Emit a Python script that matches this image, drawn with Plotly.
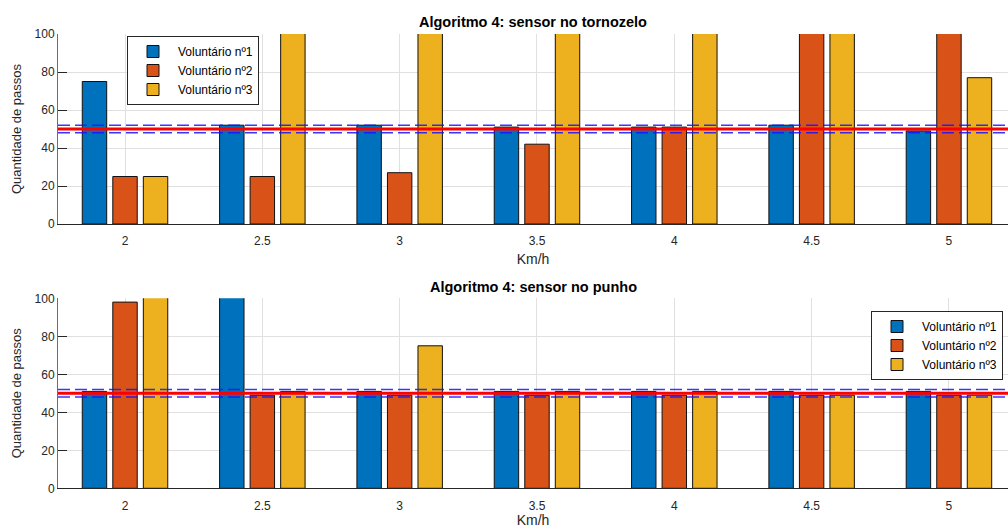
import plotly.graph_objects as go
from plotly.subplots import make_subplots

# Speeds tested (km/h)
velocidades = [2, 2.5, 3, 3.5, 4, 4.5, 5]

# Step counts, ankle sensor (values above 100 are clipped by the axis)
tornozelo_v1 = [75, 52, 52, 51, 51, 52, 49]
tornozelo_v2 = [25, 25, 27, 42, 51, 120, 120]
tornozelo_v3 = [25, 120, 120, 120, 120, 120, 77]

# Step counts, wrist sensor
punho_v1 = [51, 120, 51, 51, 51, 51, 51]
punho_v2 = [98, 49, 49, 49, 49, 49, 49]
punho_v3 = [120, 51, 75, 51, 51, 49, 49]

nomes = ["Voluntário nº1", "Voluntário nº2", "Voluntário nº3"]
cores = ["#0072BD", "#D95319", "#EDB120"]

passos_reais = 50          # true number of steps
tolerancia = [48, 52]      # acceptable band

yticks = [0, 20, 40, 60, 80, 100]
xticks = velocidades
xtick_text = ["2", "2.5", "3", "3.5", "4", "4.5", "5"]

FONT = "Liberation Sans, Arial, Helvetica, sans-serif"
TXT = "#262626"

fig = make_subplots(rows=2, cols=1)

series = [
    (1, "legend", [tornozelo_v1, tornozelo_v2, tornozelo_v3]),
    (2, "legend2", [punho_v1, punho_v2, punho_v3]),
]
for row, leg, dados in series:
    for nome, cor, vals in zip(nomes, cores, dados):
        fig.add_trace(
            go.Bar(
                x=velocidades, y=vals, name=nome, legend=leg,
                marker=dict(color=cor, line=dict(color="#111111", width=1)),
                showlegend=True,
            ),
            row=row, col=1,
        )

# Reference lines: true step count and tolerance band
for yref in ["y", "y2"]:
    xref = "x domain" if yref == "y" else "x2 domain"
    for t in tolerancia:
        fig.add_shape(type="line", xref=xref, yref=yref, x0=0, x1=1,
                      y0=t, y1=t,
                      line=dict(color="rgba(20,20,255,0.85)", width=1.5, dash="12px,5px"),
                      layer="above")
    fig.add_shape(type="line", xref=xref, yref=yref, x0=0, x1=1,
                  y0=passos_reais, y1=passos_reais,
                  line=dict(color="#FF0000", width=3), layer="above")

grid = dict(showgrid=True, gridcolor="#E0E0E0", gridwidth=1,
            zeroline=False, mirror=False, automargin=False)

xdom = [58 / 1008, 1.0]
xrange_ = [1.756, 5.215]


def eixo_x():
    return dict(grid, domain=xdom, range=xrange_,
                showline=True, linecolor=TXT, linewidth=1,
                ticks="", tickvals=xticks, ticktext=xtick_text,
                ticklabelstandoff=6,
                tickfont=dict(family=FONT, size=12, color=TXT),
                title=dict(text="Km/h", standoff=6,
                           font=dict(family=FONT, size=14, color=TXT)))


def eixo_y(dom):
    return dict(grid, domain=dom, range=[0, 100], tickvals=yticks,
                showline=True, linecolor="#6e6e6e", linewidth=1,
                ticks="inside", ticklen=9, tickwidth=1, tickcolor=TXT,
                tickfont=dict(family=FONT, size=12, color=TXT),
                title=dict(text="Quantidade de passos", standoff=10,
                           font=dict(family=FONT, size=13, color=TXT)))


leg_common = dict(bgcolor="white", bordercolor=TXT, borderwidth=1,
                  font=dict(family=FONT, size=12, color="#000000"),
                  tracegroupgap=0, itemwidth=40)

fig.update_layout(
    xaxis=eixo_x(),
    xaxis2=eixo_x(),
    yaxis=eixo_y([1 - 224 / 528, 1 - 34 / 528]),
    yaxis2=eixo_y([1 - 488.3 / 528, 1 - 298.3 / 528]),
    barmode="group", bargap=0.333, bargroupgap=0.2,
    width=1008, height=528,
    margin=dict(l=0, r=0, t=0, b=0),
    plot_bgcolor="white", paper_bgcolor="white",
    font=dict(family=FONT, size=12, color=TXT),
    legend=dict(leg_common, x=127 / 1008, y=1 - 36 / 528,
                xanchor="left", yanchor="top"),
    legend2=dict(leg_common, x=1003 / 1008, y=1 - 311 / 528,
                 xanchor="right", yanchor="top"),
    annotations=[
        dict(text="<b>Algoritmo 4: sensor no tornozelo</b>", xref="paper", yref="paper",
             x=(58 / 1008 + 1) / 2, y=1 - 22 / 528, xanchor="center", yanchor="middle",
             showarrow=False, font=dict(family=FONT, size=14.5, color="#000000")),
        dict(text="<b>Algoritmo 4: sensor no punho</b>", xref="paper", yref="paper",
             x=(58 / 1008 + 1) / 2, y=1 - 287 / 528, xanchor="center", yanchor="middle",
             showarrow=False, font=dict(family=FONT, size=14.5, color="#000000")),
    ],
)

fig.write_html("out.html")
